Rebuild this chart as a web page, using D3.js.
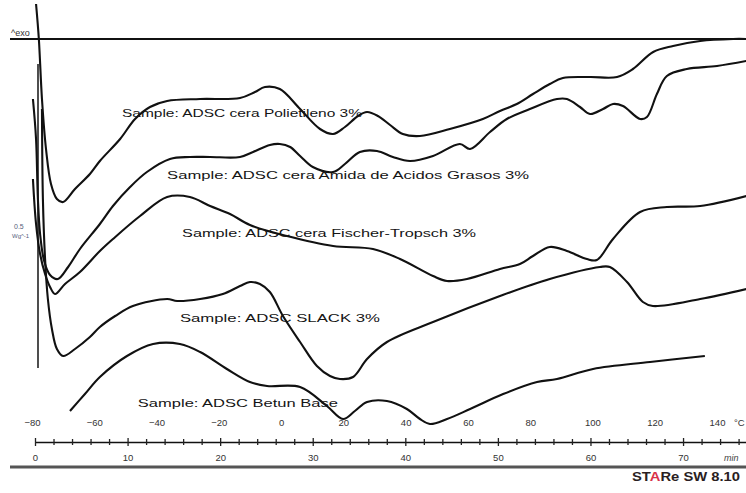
<!DOCTYPE html>
<html>
<head>
<meta charset="utf-8">
<script src="https://cdnjs.cloudflare.com/ajax/libs/d3/7.8.5/d3.min.js"></script>
<style>
  body {margin: 0; background: #fff;}
  svg {display: block;}
  text {font-family: "Liberation Sans", Arial, sans-serif;}
</style>
</head>
<body>
<svg id="chart" width="746" height="493"></svg>
<script>
// DSC curves, heat flow (arbitrary units, exo up) vs temperature in degC

var tempTicks = [-80, -60, -40, -20, 0, 20, 40, 60, 80, 100, 120, 140];
var timeTicks = [0, 10, 20, 30, 40, 50, 60, 70];

var sampleNames = [
  'Sample: ADSC cera Polietileno 3%',
  'Sample: ADSC cera Amida de Acidos Grasos 3%',
  'Sample: ADSC cera Fischer-Tropsch 3%',
  'Sample: ADSC SLACK 3%',
  'Sample: ADSC Betun Base'
];

var polietilenoT = [-78.7,-77.8,-76.8,-75.5,-73.9,-72.0,-70.0,-66.2,-61.4,-58.2,-51.7,-46.9,-42.1,-36.6,-26.0,-13.2,-8.4,-5.2,-0.4,6.1,12.5,16.7,20.5,24.7,27.6,31.1,35.0,39.1,44.6,54.2,64.8,70.3,75.7,80.9,86.3,90.5,99.2,107.9,113.0,119.5,125.9,134.6,145.2,149.4];
var polietilenoV = [0.35,0,-0.60,-1.10,-1.45,-1.60,-1.63,-1.50,-1.35,-1.22,-1.00,-0.80,-0.68,-0.62,-0.60,-0.59,-0.53,-0.48,-0.50,-0.70,-0.90,-0.95,-0.88,-0.77,-0.73,-0.77,-0.86,-0.95,-0.97,-0.90,-0.80,-0.72,-0.65,-0.55,-0.45,-0.39,-0.38,-0.38,-0.30,-0.13,-0.07,-0.02,0,0];

var amidaT = [-79.7,-78.7,-78.1,-77.4,-76.1,-74.2,-71.7,-68.4,-64.6,-58.2,-54.0,-48.5,-43.1,-35.7,-29.3,-22.8,-13.2,-9.0,-3.6,-0.4,2.9,6.1,10.2,16.7,20.5,25.3,30.8,35.9,41.4,48.8,57.4,60.7,67.1,72.5,79.9,88.6,91.8,96.0,99.2,103.4,106.6,109.8,115.3,117.5,120.7,123.9,130.3,140.0,149.4];
var amidaV = [-0.60,-1.00,-1.60,-1.95,-2.22,-2.36,-2.40,-2.28,-2.10,-1.85,-1.67,-1.48,-1.33,-1.20,-1.18,-1.18,-1.18,-1.13,-1.06,-1.05,-1.08,-1.17,-1.28,-1.33,-1.25,-1.13,-1.12,-1.18,-1.22,-1.17,-1.05,-1.10,-0.93,-0.80,-0.70,-0.60,-0.60,-0.68,-0.75,-0.70,-0.65,-0.67,-0.80,-0.78,-0.55,-0.37,-0.30,-0.27,-0.22];

var fischerT = [-79.7,-78.7,-77.4,-75.8,-74.2,-72.6,-69.4,-64.6,-58.2,-54.0,-45.3,-36.6,-29.3,-22.8,-16.4,-10.0,1.9,16.7,29.5,38.2,48.8,53.3,59.7,70.3,76.7,80.9,86.3,91.8,98.2,101.4,106.6,115.3,123.9,134.6,149.4];
var fischerV = [-1.40,-1.85,-2.15,-2.35,-2.48,-2.55,-2.45,-2.33,-2.12,-2.00,-1.77,-1.58,-1.58,-1.67,-1.75,-1.86,-1.97,-2.07,-2.10,-2.20,-2.37,-2.42,-2.40,-2.30,-2.25,-2.17,-2.08,-2.12,-2.20,-2.21,-2.00,-1.73,-1.68,-1.67,-1.57];

var slackT = [-76.8,-76.5,-75.8,-74.9,-73.6,-72.0,-70.0,-66.2,-61.4,-58.2,-53.3,-47.6,-36.6,-33.4,-26.0,-18.7,-13.2,-10.0,-6.8,-3.6,0.6,6.1,11.5,15.7,18.9,23.1,27.6,34.0,48.8,70.3,86.3,102.4,105.6,111.1,116.2,119.4,134.6,149.4];
var slackV = [-0.70,-1.60,-2.20,-2.60,-2.90,-3.10,-3.17,-3.10,-2.98,-2.88,-2.77,-2.67,-2.60,-2.62,-2.60,-2.55,-2.47,-2.43,-2.45,-2.53,-2.77,-3.03,-3.27,-3.37,-3.40,-3.38,-3.20,-3.03,-2.83,-2.57,-2.40,-2.28,-2.28,-2.43,-2.63,-2.67,-2.60,-2.50];

var betunT = [-67.8,-63.0,-58.2,-49.5,-41.1,-32.5,-26.0,-17.4,-10.0,-4.5,6.1,14.7,19.9,23.7,27.6,34.0,40.4,44.6,47.8,53.3,60.7,71.3,82.2,88.6,100.2,118.5,136.1];
var betunV = [-3.72,-3.55,-3.38,-3.17,-3.05,-3.05,-3.13,-3.30,-3.43,-3.47,-3.48,-3.67,-3.80,-3.72,-3.63,-3.62,-3.70,-3.80,-3.85,-3.80,-3.70,-3.55,-3.43,-3.40,-3.30,-3.23,-3.17];

var series = [
  {name: sampleNames[0], t: polietilenoT, v: polietilenoV},
  {name: sampleNames[1], t: amidaT, v: amidaV},
  {name: sampleNames[2], t: fischerT, v: fischerV},
  {name: sampleNames[3], t: slackT, v: slackV},
  {name: sampleNames[4], t: betunT, v: betunV}
];

// where each sample label sits (start temperature, heat flow at baseline) and how wide it is drawn
var labelSpots = [
  {t: -51.1, v: -0.78, w: 240},
  {t: -36.6, v: -1.40, w: 362},
  {t: -31.8, v: -1.98, w: 294},
  {t: -32.5, v: -2.83, w: 200},
  {t: -46.0, v: -3.68, w: 200}
];

var svg = d3.select('#chart');
var width = 746;

var x = d3.scaleLinear().domain([-80, 140]).range([32, 717]);
var xTime = d3.scaleLinear().domain([0, 76.8]).range([35, 746]);
var y = d3.scaleLinear().domain([0, -4.4]).range([39, 479]);

// top reference line
svg.append('line')
  .attr('x1', 10).attr('x2', width)
  .attr('y1', y(0)).attr('y2', y(0))
  .attr('stroke', '#111').attr('stroke-width', 2);

svg.append('text')
  .attr('x', 11).attr('y', y(0) - 3)
  .attr('font-size', 9).attr('fill', '#333')
  .text('^exo');

// heat flow scale bar
svg.append('line')
  .attr('x1', 38).attr('x2', 38)
  .attr('y1', y(-0.25)).attr('y2', y(-3.29))
  .attr('stroke', '#222').attr('stroke-width', 1.6);

svg.append('text')
  .attr('x', 14).attr('y', y(-1.9))
  .attr('font-size', 7).attr('fill', '#56607a')
  .text('0.5');
svg.append('text')
  .attr('x', 12).attr('y', y(-1.99))
  .attr('font-size', 6).attr('fill', '#56607a')
  .text('Wg^-1');

// curves
var line = d3.line()
  .x(function(d) { return x(d[0]); })
  .y(function(d) { return y(d[1]); })
  .curve(d3.curveCatmullRom.alpha(0.5));

series.forEach(function(s) {
  var pts = s.t.map(function(t, i) { return [t, s.v[i]]; });
  svg.append('path')
    .datum(pts)
    .attr('d', line)
    .attr('fill', 'none')
    .attr('stroke', '#111')
    .attr('stroke-width', 2.1)
    .attr('stroke-linejoin', 'round');
});

// sample labels
series.forEach(function(s, i) {
  var spot = labelSpots[i];
  svg.append('text')
    .attr('x', x(spot.t)).attr('y', y(spot.v))
    .attr('font-size', 11)
    .attr('fill', '#151515')
    .attr('textLength', spot.w)
    .attr('lengthAdjust', 'spacingAndGlyphs')
    .text(s.name);
});

// time axis with small ticks every 2 min
var axisY = 442;
var minorAxis = svg.append('g')
  .attr('transform', 'translate(0,' + axisY + ')')
  .call(d3.axisBottom(xTime).tickValues(d3.range(0, 77, 2)).tickSizeOuter(0).tickFormat(''));
minorAxis.select('.domain').attr('stroke', '#111').attr('stroke-width', 1.6);
minorAxis.selectAll('.tick line')
  .attr('y1', function(d) { return d % 10 === 0 ? -4 : -3; })
  .attr('y2', function(d) { return d % 10 === 0 ? 4 : 3; })
  .attr('stroke', '#222')
  .attr('stroke-width', 1.3);

// temperature labels above the axis
var tempAxis = svg.append('g')
  .attr('transform', 'translate(0,426)')
  .call(d3.axisTop(x).tickValues(tempTicks).tickSize(0).tickPadding(0));
tempAxis.select('.domain').remove();
tempAxis.selectAll('text').attr('font-size', 9.5).attr('fill', '#333').attr('font-family', null);

svg.append('text')
  .attr('x', 734).attr('y', 426)
  .attr('font-size', 9.5).attr('fill', '#333')
  .text('°C');

// minute labels below the axis
var timeAxis = svg.append('g')
  .attr('transform', 'translate(0,454)')
  .call(d3.axisBottom(xTime).tickValues(timeTicks).tickSize(0).tickPadding(0));
timeAxis.select('.domain').remove();
timeAxis.selectAll('text').attr('font-size', 9.5).attr('fill', '#333').attr('font-family', null);

svg.append('text')
  .attr('x', 724).attr('y', 461)
  .attr('font-size', 9).attr('fill', '#444')
  .attr('font-style', 'italic')
  .text('min');

// footer
svg.append('line')
  .attr('x1', 10).attr('x2', width)
  .attr('y1', 467).attr('y2', 467)
  .attr('stroke', '#555').attr('stroke-width', 3);

var logo = svg.append('text')
  .attr('x', 632).attr('y', 481)
  .attr('font-size', 13).attr('font-weight', 'bold')
  .attr('textLength', 108).attr('lengthAdjust', 'spacingAndGlyphs')
  .attr('fill', '#2a1e22');
logo.append('tspan').text('ST');
logo.append('tspan').attr('fill', '#d8324a').text('A');
logo.append('tspan').text('Re SW 8.10');
</script>
</body>
</html>
